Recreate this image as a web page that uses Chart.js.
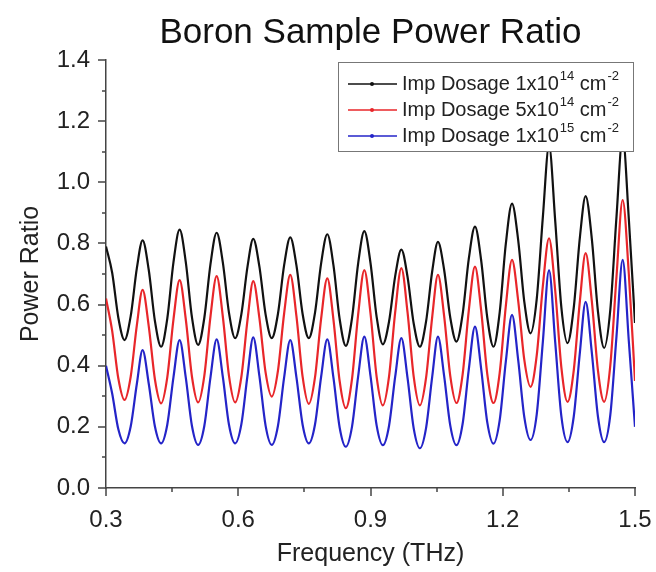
<!doctype html>
<html>

<head>
	<title>Boron Sample Power Ratio</title>
	<script src="https://cdn.jsdelivr.net/npm/chart.js@4.4.1/dist/chart.umd.min.js"></script>
	<style>
	body {
		margin: 0;
		background: #fff;
	}
	</style>
</head>

<body>
	<canvas id="canvas" width="656" height="572"></canvas>
	<script>
		// frequency samples (THz): peak, 4 points down/up, next peak
		var freq = [
			0.300, 0.314, 0.328, 0.342, 0.356, 0.370,
			0.383, 0.397, 0.411, 0.425, 0.439, 0.453,
			0.467, 0.481, 0.495, 0.509, 0.523, 0.537,
			0.551, 0.565, 0.579, 0.593, 0.607, 0.621,
			0.634, 0.648, 0.662, 0.676, 0.690, 0.704,
			0.718, 0.732, 0.746, 0.760, 0.774, 0.788,
			0.802, 0.816, 0.830, 0.844, 0.858, 0.872,
			0.886, 0.900, 0.914, 0.928, 0.942, 0.956,
			0.970, 0.984, 0.998, 1.012, 1.026, 1.040,
			1.053, 1.067, 1.081, 1.095, 1.109, 1.123,
			1.137, 1.151, 1.165, 1.179, 1.193, 1.207,
			1.221, 1.235, 1.249, 1.263, 1.277, 1.291,
			1.305, 1.319, 1.333, 1.347, 1.361, 1.375,
			1.388, 1.402, 1.416, 1.430, 1.444, 1.458,
			1.472, 1.486, 1.500
		];

		var dose1e14 = [
			0.790, 0.704, 0.557, 0.484, 0.562, 0.719,
			0.810, 0.713, 0.546, 0.462, 0.554, 0.738,
			0.845, 0.739, 0.558, 0.468, 0.556, 0.732,
			0.835, 0.738, 0.573, 0.490, 0.568, 0.724,
			0.815, 0.724, 0.568, 0.490, 0.569, 0.728,
			0.820, 0.728, 0.569, 0.490, 0.572, 0.735,
			0.830, 0.728, 0.553, 0.465, 0.555, 0.735,
			0.840, 0.736, 0.559, 0.470, 0.544, 0.693,
			0.780, 0.691, 0.538, 0.462, 0.544, 0.709,
			0.805, 0.714, 0.557, 0.479, 0.569, 0.750,
			0.855, 0.745, 0.556, 0.462, 0.574, 0.799,
			0.930, 0.811, 0.608, 0.506, 0.617, 0.887,
			1.120, 0.874, 0.590, 0.474, 0.589, 0.820,
			0.955, 0.816, 0.577, 0.458, 0.583, 0.887,
			1.150, 0.880, 0.540
		];

		var dose5e14 = [
			0.620, 0.514, 0.358, 0.288, 0.364, 0.533,
			0.648, 0.529, 0.355, 0.277, 0.362, 0.551,
			0.680, 0.552, 0.364, 0.280, 0.367, 0.561,
			0.693, 0.561, 0.367, 0.280, 0.363, 0.550,
			0.677, 0.556, 0.378, 0.299, 0.383, 0.570,
			0.697, 0.562, 0.364, 0.275, 0.361, 0.554,
			0.686, 0.550, 0.350, 0.261, 0.356, 0.568,
			0.713, 0.571, 0.363, 0.270, 0.364, 0.575,
			0.719, 0.575, 0.364, 0.270, 0.360, 0.560,
			0.697, 0.563, 0.366, 0.278, 0.372, 0.581,
			0.724, 0.581, 0.372, 0.278, 0.376, 0.596,
			0.746, 0.613, 0.418, 0.331, 0.433, 0.661,
			0.817, 0.646, 0.394, 0.282, 0.384, 0.612,
			0.768, 0.612, 0.384, 0.282, 0.401, 0.691,
			0.942, 0.700, 0.350
		];

		var dose1e15 = [
			0.400, 0.309, 0.192, 0.146, 0.201, 0.341,
			0.451, 0.341, 0.201, 0.146, 0.207, 0.362,
			0.484, 0.361, 0.203, 0.141, 0.203, 0.362,
			0.486, 0.364, 0.207, 0.146, 0.208, 0.368,
			0.493, 0.366, 0.204, 0.141, 0.203, 0.361,
			0.484, 0.362, 0.207, 0.146, 0.207, 0.364,
			0.486, 0.360, 0.198, 0.135, 0.200, 0.365,
			0.495, 0.367, 0.204, 0.140, 0.203, 0.364,
			0.490, 0.360, 0.195, 0.130, 0.196, 0.364,
			0.495, 0.367, 0.204, 0.140, 0.210, 0.388,
			0.528, 0.390, 0.214, 0.145, 0.221, 0.414,
			0.566, 0.419, 0.231, 0.157, 0.240, 0.479,
			0.713, 0.477, 0.234, 0.150, 0.233, 0.444,
			0.609, 0.444, 0.233, 0.150, 0.239, 0.496,
			0.746, 0.480, 0.200
		];

		var xTicks = [0.3, 0.6, 0.9, 1.2, 1.5];
		var xMinor = [0.45, 0.75, 1.05, 1.35];
		var yTicks = [0.0, 0.2, 0.4, 0.6, 0.8, 1.0, 1.2, 1.4];
		var yMinor = [0.1, 0.3, 0.5, 0.7, 0.9, 1.1, 1.3];

		var legendMant = ['1', '5', '1'];
		var legendExp = ['14', '14', '15'];
		var seriesColors = ['#111111', '#e8262a', '#2424c8'];

		var FONT = '"Liberation Sans", Arial, sans-serif';
		var AXIS = '#444';

		function toPoints(ys) {
			return freq.map(function(f, i) {
				return {x: f, y: ys[i]};
			});
		}

		function makeSet(ys, i) {
			return {
				label: 'Imp Dosage ' + legendMant[i] + 'x10^' + legendExp[i] + ' cm^-2',
				data: toPoints(ys),
				borderColor: seriesColors[i],
				borderWidth: 2.2,
				pointRadius: 0,
				fill: false,
				cubicInterpolationMode: 'monotone'
			};
		}

		// outward tick marks, long on labelled values, short in between
		var tickMarks = {
			id: 'tickMarks',
			afterDraw: function(chart) {
				var ctx = chart.ctx;
				var x = chart.scales.x, y = chart.scales.y;
				ctx.save();
				ctx.strokeStyle = AXIS;
				ctx.lineWidth = 1.5;
				ctx.beginPath();
				xTicks.forEach(function(v) {
					var px = Math.round(x.getPixelForValue(v));
					ctx.moveTo(px, x.top); ctx.lineTo(px, x.top + 8);
				});
				xMinor.forEach(function(v) {
					var px = Math.round(x.getPixelForValue(v));
					ctx.moveTo(px, x.top); ctx.lineTo(px, x.top + 4);
				});
				yTicks.forEach(function(v) {
					var py = Math.round(y.getPixelForValue(v));
					ctx.moveTo(y.right - 8, py); ctx.lineTo(y.right, py);
				});
				yMinor.forEach(function(v) {
					var py = Math.round(y.getPixelForValue(v));
					ctx.moveTo(y.right - 4, py); ctx.lineTo(y.right, py);
				});
				ctx.stroke();
				ctx.restore();
			}
		};

		// boxed legend inside the plot, with superscripts
		var insetLegend = {
			id: 'insetLegend',
			afterDatasetsDraw: function(chart) {
				var ctx = chart.ctx;
				var area = chart.chartArea;
				var w = 295, h = 89;
				var left = area.right - w - 2, top = area.top + 2;
				ctx.save();
				ctx.fillStyle = '#fff';
				ctx.fillRect(left, top, w, h);
				ctx.strokeStyle = '#777';
				ctx.lineWidth = 1;
				ctx.strokeRect(left + 0.5, top + 0.5, w, h);

				var big = '20px ' + FONT, small = '13px ' + FONT;
				ctx.textBaseline = 'middle';
				chart.data.datasets.forEach(function(ds, i) {
					var cy = top + 22 + i * 26;
					ctx.strokeStyle = ds.borderColor;
					ctx.lineWidth = 1.5;
					ctx.beginPath();
					ctx.moveTo(left + 10, cy);
					ctx.lineTo(left + 59, cy);
					ctx.stroke();
					ctx.fillStyle = ds.borderColor;
					ctx.beginPath();
					ctx.arc(left + 34, cy, 2, 0, Math.PI * 2);
					ctx.fill();

					ctx.fillStyle = '#222';
					var tx = left + 64;
					ctx.font = big;
					var s1 = 'Imp Dosage ' + legendMant[i] + 'x10';
					ctx.fillText(s1, tx, cy);
					tx += ctx.measureText(s1).width + 1;
					ctx.font = small;
					ctx.fillText(legendExp[i], tx, cy - 8);
					tx += ctx.measureText(legendExp[i]).width;
					ctx.font = big;
					ctx.fillText(' cm', tx, cy);
					tx += ctx.measureText(' cm').width + 1;
					ctx.font = small;
					ctx.fillText('-2', tx, cy - 8);
				});
				ctx.restore();
			}
		};

		window.onload = function() {
			var ctx = document.getElementById('canvas').getContext('2d');
			window.myChart = new Chart(ctx, {
				type: 'line',
				data: {
					datasets: [makeSet(dose1e14, 0), makeSet(dose5e14, 1), makeSet(dose1e15, 2)]
				},
				options: {
					responsive: false,
					animation: false,
					layout: {
						padding: {left: 0, right: 21, top: 0, bottom: 0}
					},
					plugins: {
						legend: {display: false},
						tooltip: {enabled: false},
						title: {
							display: true,
							fullSize: false,
							text: 'Boron Sample Power Ratio',
							color: '#111',
							font: {family: FONT, size: 35, weight: 'normal'},
							padding: {top: 12, bottom: 6}
						}
					},
					scales: {
						x: {
							type: 'linear',
							min: 0.3,
							max: 1.5,
							afterBuildTicks: function(scale) {
								scale.ticks = xTicks.map(function(v) { return {value: v}; });
							},
							afterFit: function(scale) {
								scale.height = 84;
								scale.paddingLeft = 0;
								scale.paddingRight = 0;
							},
							grid: {display: false},
							border: {display: true, color: AXIS, width: 1.5},
							ticks: {
								color: '#222',
								font: {family: FONT, size: 24},
								padding: 10,
								maxRotation: 0,
								autoSkip: false,
								callback: function(v) { return v.toFixed(1); }
							},
							title: {
								display: true,
								text: 'Frequency (THz)',
								color: '#222',
								font: {family: FONT, size: 25},
								padding: {top: 0, bottom: 3}
							}
						},
						y: {
							min: 0,
							max: 1.4,
							afterBuildTicks: function(scale) {
								scale.ticks = yTicks.map(function(v) { return {value: v}; });
							},
							afterFit: function(scale) {
								scale.width = 106;
							},
							grid: {display: false},
							border: {display: true, color: AXIS, width: 1.5},
							ticks: {
								color: '#222',
								font: {family: FONT, size: 24},
								padding: 8,
								autoSkip: false,
								callback: function(v) { return v.toFixed(1); }
							},
							title: {
								display: true,
								text: 'Power Ratio',
								color: '#222',
								font: {family: FONT, size: 25},
								padding: {top: 16, bottom: 0}
							}
						}
					}
				},
				plugins: [tickMarks, insetLegend]
			});
		};
	</script>
</body>
</html>
